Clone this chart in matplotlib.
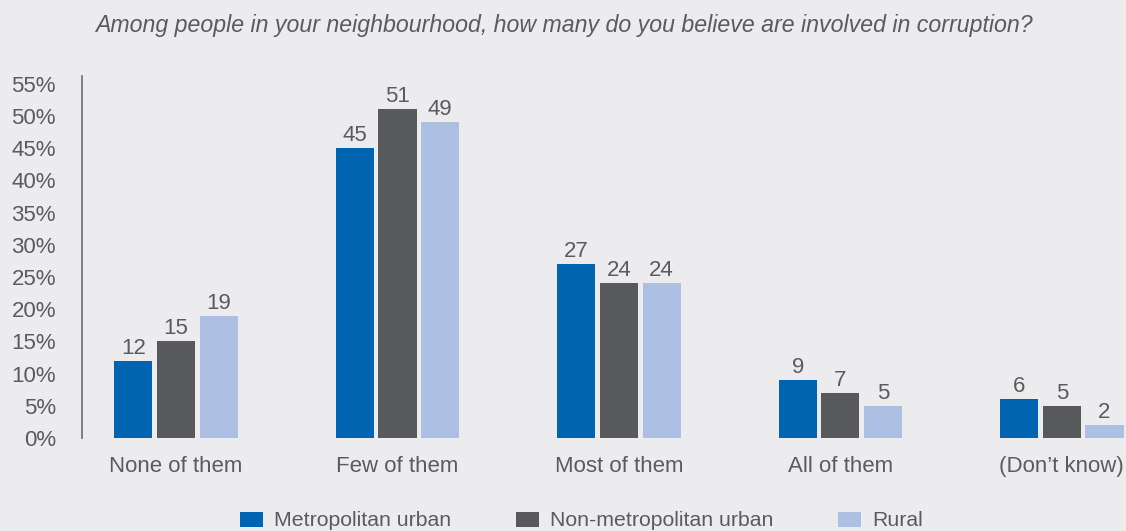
import matplotlib.pyplot as plt
from matplotlib.patches import Patch
import numpy as np

categories = ["None of them", "Few of them", "Most of them", "All of them", "(Don\u2019t know)"]
series_names = ["Metropolitan urban", "Non-metropolitan urban", "Rural"]
metro = [12, 45, 27, 9, 6]
non_metro = [15, 51, 24, 7, 5]
rural = [19, 49, 24, 5, 2]
y_ticks = [0, 5, 10, 15, 20, 25, 30, 35, 40, 45, 50, 55]
title = "Among people in your neighbourhood, how many do you believe are involved in corruption?"

colors = ["#0064B0", "#58595B", "#ADC0E4"]
bg = "#ECECEE"
text_col = "#5A5B5D"

plt.rcParams['font.family'] = ['Liberation Sans', 'DejaVu Sans']

W, H = 1126, 531
fig = plt.figure(figsize=(W / 100, H / 100), dpi=100, facecolor=bg)
ax = fig.add_axes([82 / W, 93 / H, 1 - 82 / W, 362 / H])
ax.set_facecolor(bg)

x = np.arange(len(categories))
width = 0.172
step = 0.193
for i, (vals, c) in enumerate(zip([metro, non_metro, rural], colors)):
    pos = x + (i - 1) * step
    bars = ax.bar(pos, vals, width=width, color=c, zorder=2)
    for b, v in zip(bars, vals):
        ax.text(b.get_x() + b.get_width() / 2, v + 1.1, f"{v}",
                ha="center", va="baseline", fontsize=16, color=text_col)

ax.set_xlim(-0.425, 4.29)
ax.set_ylim(0, 56.2)
ax.set_yticks(y_ticks)
ax.set_yticklabels([f"{t}%" for t in y_ticks])
ax.set_xticks(x)
ax.set_xticklabels(categories)
ax.tick_params(axis="y", length=0, pad=18.7, labelsize=16, labelcolor=text_col)
ax.tick_params(axis="x", length=0, pad=12.8, labelsize=16, labelcolor=text_col)
for s in ["top", "right", "bottom"]:
    ax.spines[s].set_visible(False)
ax.spines["left"].set_color("#777777")
ax.spines["left"].set_linewidth(1.3)

fig.text(564 / W, 1 - 32 / H, title, ha="center", va="baseline",
         fontsize=16.7, style="italic", color=text_col)

handles = [Patch(facecolor=c, edgecolor="none") for c in colors]
fig.legend(handles, series_names, loc="center", bbox_to_anchor=(581.5 / W, 1 - 521 / H),
           ncol=3, frameon=False, fontsize=15.3, handlelength=1.08, handleheight=0.71,
           handletextpad=0.52, columnspacing=3.03, labelcolor=text_col,
           borderpad=0, borderaxespad=0)

fig.savefig("out.png", dpi=100, facecolor=bg)
